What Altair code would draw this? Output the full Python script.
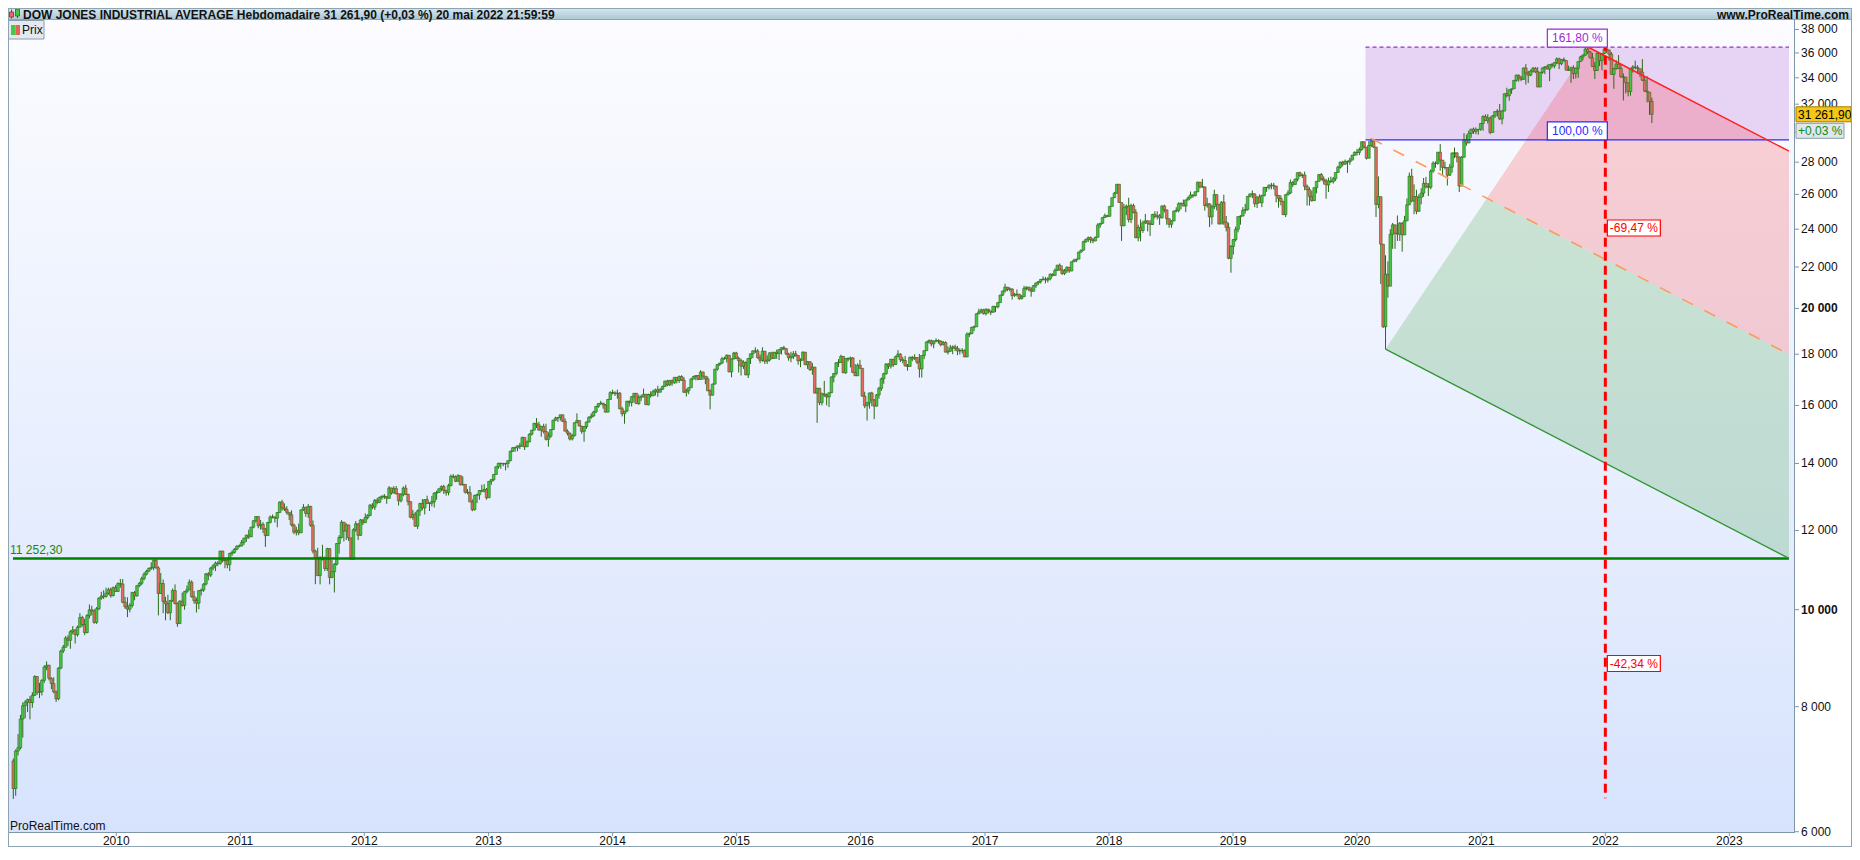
import math
import altair as alt
import pandas as pd

# ---------------- weekly candles (DJIA, week of 2009-03-02 .. week of 2022-05-16) ----------------
FIRST_OPEN = 7062.0

close_2009 = [6627, 7224, 7278, 7776, 8018, 8083, 8131, 8076, 8212, 8575, 8268, 8278, 8500, 8764, 8799, 8540, 8438, 8280, 8146, 8743, 9093, 9172, 9370, 9321, 9506, 9544, 9441, 9605, 9820, 9665, 9488, 9865, 9996, 9972, 9713, 10023, 10270, 10319, 10310, 10388, 10471, 10329, 10520, 10428]
close_2010 = [10618, 10610, 10173, 10067, 10012, 10099, 10403, 10325, 10567, 10625, 10742, 10851, 10927, 10997, 11019, 11204, 11009, 10380, 10620, 10193, 10137, 9931, 10212, 10450, 10144, 9686, 10198, 10098, 10424, 10466, 10654, 10303, 10213, 10150, 10448, 10462, 10607, 10860, 10829, 11006, 11063, 11133, 11118, 11445, 11192, 11204, 11092, 11382, 11410, 11492, 11573, 11578]
close_2011 = [11675, 11787, 11872, 11824, 12092, 12273, 12391, 12130, 12170, 12044, 11859, 12221, 12377, 12380, 12342, 12506, 12811, 12638, 12596, 12512, 12441, 12151, 11952, 12004, 11934, 12582, 12657, 12479, 12681, 12143, 11445, 11269, 10818, 11285, 11240, 10992, 11509, 10771, 10913, 11103, 11645, 11809, 12231, 11983, 12153, 11796, 11231, 12019, 12184, 11866, 12294, 12218]
close_2012 = [12360, 12422, 12720, 12660, 12862, 12801, 12950, 12983, 12978, 12922, 13233, 13081, 13212, 13060, 12850, 13029, 13229, 13038, 12821, 12369, 12455, 12119, 12554, 12767, 12640, 12880, 12772, 12777, 12823, 13075, 13096, 13207, 13275, 13158, 13091, 13306, 13593, 13579, 13437, 13610, 13329, 13343, 13107, 13093, 12815, 12588, 13010, 13026, 13155, 13135, 13190, 12938]
close_2013 = [13435, 13488, 13650, 13896, 14010, 13993, 13982, 14001, 14090, 14397, 14515, 14512, 14579, 14565, 14865, 14547, 14712, 14974, 15118, 15354, 15303, 15116, 15248, 15070, 14800, 14910, 15135, 15464, 15543, 15559, 15658, 15425, 15081, 15010, 14810, 14922, 15376, 15452, 15258, 15073, 15237, 15400, 15570, 15615, 15762, 15962, 16065, 16086, 16020, 15755, 16221, 16479]
close_2014 = [16470, 16437, 16459, 15879, 15699, 15794, 16154, 16104, 16322, 16453, 16066, 16303, 16323, 16413, 16027, 16409, 16361, 16513, 16584, 16492, 16606, 16717, 16925, 16776, 16947, 16851, 17068, 16944, 17100, 16961, 16493, 16553, 16663, 17001, 17098, 17138, 16988, 17280, 17113, 17009, 16544, 16380, 16805, 17391, 17573, 17635, 17810, 17828, 17958, 17281, 17805, 18053, 17833]
close_2015 = [17737, 17512, 17672, 17165, 17825, 18019, 18140, 18133, 17857, 17749, 18128, 17713, 17763, 18058, 17826, 18080, 18025, 18191, 18273, 18232, 18011, 17849, 17899, 18016, 17947, 17730, 17760, 18086, 17569, 17690, 17373, 17477, 16460, 16643, 16102, 16433, 16385, 16315, 16472, 17084, 17216, 17647, 17664, 17910, 17245, 17824, 17798, 17848, 17265, 17128, 17552, 17425]
close_2016 = [16347, 15988, 16094, 16466, 16205, 15974, 16392, 16640, 17007, 17213, 17602, 17516, 17793, 17577, 17898, 18004, 17774, 17741, 17535, 17501, 17873, 17807, 17865, 17675, 17400, 17949, 18147, 18517, 18571, 18432, 18544, 18577, 18553, 18395, 18492, 18085, 18124, 18262, 18308, 18240, 18138, 18146, 18161, 17889, 18848, 18868, 19153, 19171, 19757, 19843, 19934, 19763]
close_2017 = [19964, 19886, 19827, 20094, 20071, 20269, 20624, 20822, 21006, 20903, 20915, 20597, 20663, 20656, 20453, 20548, 20941, 21007, 20897, 20805, 21080, 21206, 21272, 21384, 21395, 21350, 21414, 21638, 21580, 21830, 22092, 21858, 21675, 21814, 21988, 21798, 22268, 22350, 22405, 22774, 22871, 23329, 23434, 23539, 23422, 23358, 23558, 24232, 24329, 24652, 24754, 24719]
close_2018 = [25296, 25803, 26072, 26617, 25521, 24191, 25219, 25310, 24538, 25336, 24947, 23533, 24103, 23933, 24360, 24463, 24311, 24263, 24831, 24715, 24753, 24635, 25317, 25090, 24581, 24271, 24456, 25019, 25058, 25451, 25463, 25313, 25669, 25790, 25965, 25917, 26155, 26744, 26458, 26447, 25340, 25444, 24688, 25271, 25989, 25413, 24286, 25538, 24389, 24101, 22445, 23062]
close_2019 = [23433, 23996, 24706, 24737, 25064, 25106, 25883, 26031, 26026, 25450, 25849, 25502, 25929, 26425, 26412, 26559, 26543, 26505, 25942, 25764, 25586, 24815, 25984, 26090, 26719, 26600, 26922, 27332, 27154, 27192, 26485, 26287, 25886, 25629, 26403, 26797, 27220, 26935, 26820, 26573, 26817, 26770, 26958, 27347, 27681, 28005, 27876, 28051, 28015, 28135, 28455, 28645]
close_2020 = [28635, 28824, 29348, 28990, 28256, 29103, 29398, 28992, 25409, 25865, 23186, 19174, 21637, 21053, 23720, 24242, 23775, 23724, 24331, 23685, 24465, 25383, 27111, 25606, 25871, 25016, 25827, 26075, 26672, 26470, 26428, 27433, 27931, 27930, 28654, 28133, 27666, 27657, 27174, 27683, 28587, 28606, 28336, 26502, 28323, 29480, 29263, 29910, 30218, 30046, 30179, 30200, 30606]
close_2021 = [31098, 30814, 30997, 29983, 31148, 31458, 31494, 30932, 31496, 32779, 32628, 33073, 33153, 33801, 34200, 34043, 33875, 34778, 34382, 34208, 34529, 34756, 34480, 33290, 34433, 34786, 34870, 34687, 35062, 34935, 35209, 35515, 35120, 35456, 35369, 34608, 34585, 34798, 34326, 34746, 35295, 35677, 35820, 36328, 36100, 35602, 34899, 34580, 35971, 35365, 35951, 36338]
close_2022 = [36231, 35912, 34265, 34725, 35089, 34738, 34079, 34059, 33615, 32944, 34755, 34861, 34818, 34721, 34451, 33811, 32977, 32899, 32197, 31261.9]

high_2009 = [7100, 7250, 7510, 7850, 8080, 8120, 8150, 8200, 8270, 8600, 8580, 8450, 8520, 8800, 8880, 8810, 8560, 8560, 8300, 8760, 9120, 9220, 9410, 9430, 9540, 9630, 9560, 9640, 9920, 9860, 9790, 9900, 10120, 10090, 10010, 10060, 10290, 10420, 10460, 10520, 10520, 10520, 10550, 10580]
high_2010 = [10650, 10730, 10730, 10300, 10290, 10150, 10420, 10440, 10580, 10660, 10790, 10900, 10960, 11020, 11150, 11220, 11258, 11050, 10880, 10720, 10300, 10350, 10230, 10500, 10600, 10170, 10220, 10400, 10440, 10570, 10720, 10700, 10440, 10280, 10460, 10500, 10630, 10880, 10900, 11030, 11100, 11170, 11180, 11450, 11450, 11240, 11250, 11400, 11460, 11520, 11600, 11620]
high_2011 = [11740, 11800, 11880, 12020, 12100, 12280, 12400, 12390, 12290, 12230, 12070, 12240, 12420, 12450, 12390, 12520, 12830, 12876, 12770, 12690, 12510, 12570, 12190, 12100, 12190, 12600, 12750, 12670, 12750, 12700, 12280, 11480, 11530, 11300, 11610, 11300, 11530, 11520, 11210, 11130, 11650, 11870, 12284, 12200, 12200, 12160, 11790, 12060, 12260, 12200, 12320, 12310]
high_2012 = [12480, 12460, 12750, 12780, 12900, 12930, 12970, 13010, 13050, 12990, 13290, 13240, 13290, 13290, 13060, 13080, 13280, 13330, 13060, 12830, 12580, 12520, 12590, 12790, 12900, 12900, 13000, 12800, 12990, 13100, 13150, 13220, 13310, 13330, 13170, 13360, 13650, 13660, 13620, 13660, 13620, 13590, 13330, 13200, 13290, 12890, 13030, 13060, 13170, 13330, 13350, 13230]
high_2013 = [13440, 13500, 13660, 13900, 14020, 14010, 14020, 14020, 14090, 14420, 14540, 14550, 14590, 14680, 14890, 14860, 14760, 15010, 15120, 15370, 15540, 15410, 15260, 15340, 15340, 15040, 15140, 15480, 15590, 15580, 15660, 15660, 15530, 15140, 15030, 14980, 15380, 15710, 15450, 15260, 15260, 15420, 15600, 15710, 15800, 15970, 16080, 16170, 16090, 16050, 16230, 16530]
high_2014 = [16590, 16530, 16590, 16500, 15950, 15800, 16170, 16180, 16350, 16460, 16450, 16400, 16400, 16630, 16430, 16440, 16530, 16590, 16630, 16740, 16640, 16740, 16930, 16970, 16960, 16980, 17070, 17080, 17140, 17150, 17080, 16630, 16680, 17040, 17130, 17150, 17160, 17350, 17290, 17120, 17100, 16600, 16820, 17400, 17600, 17650, 17890, 17900, 17990, 17950, 17830, 18100, 18100]
high_2015 = [17900, 17820, 17750, 17700, 17840, 18020, 18160, 18290, 18210, 17990, 18290, 18130, 17950, 18080, 18110, 18100, 18190, 18200, 18290, 18350, 18240, 18060, 18100, 18130, 18140, 17950, 17830, 18120, 18070, 17720, 17720, 17640, 17480, 16660, 16660, 16480, 16930, 16440, 16480, 17100, 17240, 17680, 17800, 17980, 17910, 17830, 17870, 17900, 17880, 17600, 17620, 17770]
high_2016 = [17410, 16510, 16130, 16480, 16510, 16230, 16430, 16700, 17060, 17250, 17630, 17630, 17800, 17800, 17940, 18170, 18040, 17890, 17930, 17600, 17900, 17930, 18000, 17870, 18010, 17950, 18160, 18540, 18620, 18620, 18580, 18670, 18630, 18580, 18560, 18540, 18330, 18390, 18370, 18400, 18340, 18240, 18250, 18200, 18930, 18930, 19170, 19230, 19770, 19990, 19990, 19980]
high_2017 = [19999, 19980, 19890, 20125, 20090, 20300, 20640, 20830, 21170, 21010, 21000, 20950, 20730, 20890, 20690, 20630, 21070, 21040, 21020, 21000, 21110, 21230, 21300, 21400, 21530, 21500, 21490, 21680, 21680, 21930, 22110, 22180, 22080, 21900, 22030, 21990, 22280, 22420, 22420, 22780, 22900, 23370, 23490, 23600, 23600, 23510, 23600, 24330, 24350, 24670, 24880, 24800]
high_2018 = [25300, 25810, 26150, 26620, 26600, 25520, 25430, 25400, 25800, 25450, 25450, 25130, 24250, 24540, 24480, 24860, 24500, 24500, 24860, 25010, 25010, 24850, 25350, 25400, 25100, 24600, 24500, 25050, 25240, 25530, 25530, 25690, 25700, 25890, 26170, 26000, 26180, 26770, 26760, 26950, 26490, 25800, 25470, 25380, 26280, 26000, 25410, 25600, 25980, 24740, 24360, 23140]
high_2019 = [23470, 24150, 24710, 24780, 25250, 25440, 25890, 26050, 26240, 26070, 25880, 26000, 25990, 26430, 26450, 26600, 26700, 26700, 26250, 25950, 25950, 25530, 26000, 26250, 26900, 26810, 26970, 27350, 27400, 27270, 27400, 26600, 26430, 26230, 26420, 26800, 27230, 27310, 27100, 26950, 27030, 27090, 27070, 27350, 27770, 28030, 28090, 28170, 28100, 28290, 28470, 28700]
high_2020 = [28870, 28960, 29370, 29370, 28990, 29410, 29568, 29460, 28400, 27100, 25720, 23190, 22600, 22290, 24000, 24350, 24250, 24770, 24400, 24390, 24750, 25760, 27340, 27580, 26610, 26280, 26000, 26370, 27000, 27070, 26690, 27540, 28060, 28050, 28660, 29200, 28100, 28030, 27650, 27880, 28650, 28960, 28640, 28360, 28400, 29933, 29830, 30116, 30220, 30320, 30330, 30200, 30640]
high_2021 = [31190, 31260, 31270, 31100, 31200, 31470, 31630, 32010, 31590, 32790, 33230, 33100, 33170, 33830, 34260, 34260, 34120, 34820, 35090, 34550, 34650, 34850, 34850, 34850, 34470, 34800, 34930, 35050, 35080, 35170, 35220, 35630, 35610, 35510, 35630, 35390, 34980, 34880, 34990, 34800, 35300, 35760, 35890, 36430, 36565, 36180, 36010, 35260, 36030, 36000, 35990, 36580]
high_2022 = [36952, 36290, 36070, 34790, 35400, 35820, 35070, 34350, 34000, 33590, 34760, 35000, 35370, 35000, 34730, 35490, 34110, 34120, 32870, 32470]

low_2009 = [6470, 6517, 7150, 7250, 7450, 7790, 7900, 7770, 7980, 8200, 8220, 8160, 8210, 8450, 8700, 8500, 8330, 8250, 8087, 8120, 8720, 9050, 9170, 9200, 9140, 9450, 9250, 9400, 9600, 9620, 9430, 9470, 9800, 9870, 9680, 9680, 9990, 10230, 10250, 10280, 10350, 10280, 10310, 10420]
low_2010 = [10420, 10520, 10150, 10020, 9830, 9940, 10050, 10220, 10300, 10530, 10580, 10700, 10820, 10900, 10960, 10950, 10990, 9870, 10370, 9920, 9760, 9900, 9760, 10180, 10120, 9614, 9680, 10070, 10000, 10380, 10460, 10280, 10140, 9936, 10010, 10330, 10420, 10570, 10700, 10780, 10950, 10930, 11050, 11090, 11150, 11000, 11000, 10930, 11320, 11380, 11470, 11540]
low_2011 = [11570, 11610, 11690, 11770, 11820, 12060, 12220, 12060, 12020, 11930, 11555, 11850, 12200, 12340, 12220, 12090, 12490, 12560, 12550, 12450, 12290, 12110, 11900, 11860, 11870, 11930, 12550, 12380, 12350, 12100, 11380, 10604, 10800, 10600, 11200, 10930, 10930, 10600, 10750, 10404, 11070, 11380, 11780, 11700, 11740, 11710, 11231, 11220, 11960, 11740, 11850, 12150]
low_2012 = [12220, 12310, 12400, 12600, 12580, 12740, 12780, 12880, 12900, 12760, 12900, 13030, 13060, 13030, 12710, 12800, 12980, 13020, 12710, 12340, 12300, 12100, 12040, 12410, 12570, 12450, 12750, 12550, 12680, 12650, 12880, 13090, 13130, 13050, 13000, 13010, 13280, 13530, 13410, 13430, 13310, 13310, 13060, 13040, 12810, 12540, 12560, 12780, 12880, 13100, 13100, 12880]
low_2013 = [12930, 13330, 13440, 13640, 13830, 13830, 13910, 13780, 13860, 14070, 14380, 14380, 14400, 14470, 14550, 14440, 14540, 14700, 14930, 15100, 15190, 15100, 14890, 15000, 14760, 14550, 14850, 15120, 15440, 15400, 15450, 15400, 15070, 14930, 14760, 14760, 14900, 15360, 15250, 14990, 14720, 15160, 15380, 15520, 15590, 15720, 15910, 16020, 15880, 15740, 15750, 16220]
low_2014 = [16410, 16350, 16250, 15860, 15600, 15340, 15750, 15960, 15960, 16100, 16060, 16020, 16170, 16300, 16020, 16000, 16290, 16340, 16370, 16320, 16490, 16580, 16700, 16720, 16730, 16740, 16820, 16830, 16850, 16930, 16460, 16330, 16420, 16660, 16990, 16950, 16960, 16980, 16970, 16800, 16540, 15855, 16370, 16790, 17330, 17530, 17600, 17770, 17660, 17270, 17070, 17790, 17800]
low_2015 = [17260, 17140, 17400, 17150, 17040, 17600, 17840, 18050, 17820, 17630, 17690, 17600, 17600, 17700, 17800, 17820, 17810, 17760, 17990, 18170, 17960, 17730, 17670, 17800, 17900, 17570, 17470, 17740, 17560, 17400, 17320, 17170, 16450, 15370, 16010, 16000, 16320, 16000, 15940, 16460, 16870, 17150, 17480, 17650, 17240, 17210, 17700, 17460, 17230, 17120, 17130, 17420]
low_2016 = [16330, 15900, 15451, 15880, 15970, 15503, 15960, 16250, 16540, 16820, 17170, 17400, 17420, 17480, 17560, 17880, 17680, 17630, 17490, 17330, 17490, 17710, 17770, 17600, 17060, 17060, 17800, 18140, 18450, 18330, 18250, 18500, 18440, 18330, 18380, 18080, 17990, 18100, 18000, 18130, 17960, 17990, 18030, 17880, 17880, 18730, 18860, 18980, 19170, 19730, 19780, 19720]
low_2017 = [19680, 19770, 19700, 19800, 19830, 20000, 20260, 20580, 20740, 20810, 20800, 20410, 20540, 20560, 20400, 20420, 20540, 20850, 20810, 20550, 20800, 20970, 21120, 21180, 21330, 21190, 21230, 21330, 21520, 21560, 21800, 21820, 21600, 21600, 21700, 21710, 21790, 22250, 22250, 22400, 22730, 22840, 23250, 23300, 23240, 23240, 23350, 23540, 24070, 24300, 24650, 24670]
low_2018 = [24740, 25280, 25790, 26050, 25500, 23360, 24160, 24790, 24380, 24340, 24890, 23510, 23340, 23340, 23800, 24300, 23880, 23630, 24230, 24610, 24550, 24240, 24600, 24940, 24250, 24080, 24080, 24450, 24950, 24950, 25120, 25300, 24960, 25650, 25760, 25800, 25890, 26140, 26360, 26400, 25050, 25220, 24120, 24260, 25130, 25060, 24270, 24290, 24240, 23880, 22400, 21713]
low_2019 = [22640, 23330, 23830, 24250, 24720, 24880, 25050, 25820, 25780, 25250, 25200, 25490, 25250, 25880, 26150, 26290, 26300, 26300, 25530, 25220, 25350, 24800, 24680, 25940, 26020, 26450, 26710, 26790, 27060, 27000, 26250, 25340, 25340, 25570, 25620, 26060, 26780, 26860, 26600, 25740, 26140, 26700, 26660, 26820, 27320, 27590, 27730, 27820, 27320, 27830, 28130, 28420]
low_2020 = [28420, 28460, 28740, 28900, 28170, 28320, 29000, 28930, 24681, 25180, 21154, 19122, 18213, 20500, 21050, 22940, 22940, 23360, 23360, 22790, 23680, 24450, 25380, 25530, 24840, 24840, 24970, 25410, 25860, 26360, 25900, 26310, 27330, 27640, 27840, 27460, 27190, 27540, 26540, 27120, 27330, 28260, 27990, 26140, 26500, 28300, 29080, 29260, 29620, 29880, 29860, 29830, 30100]
low_2021 = [30100, 30790, 30600, 29860, 29980, 31000, 31100, 30850, 30550, 31480, 32500, 32250, 32770, 33150, 33700, 33710, 33730, 33840, 33470, 33600, 34130, 34390, 34370, 33270, 33270, 34320, 34290, 34680, 33740, 34800, 34750, 35090, 34690, 35000, 35270, 34580, 34560, 33610, 33900, 33940, 34000, 35260, 35380, 35760, 35900, 35560, 34860, 33910, 34560, 34930, 34600, 35900]
low_2022 = [35990, 35370, 34260, 33150, 34640, 34720, 33990, 32272, 32800, 32580, 32630, 34410, 34660, 34300, 34080, 33750, 32910, 32130, 31210, 30636]

closes = (close_2009 + close_2010 + close_2011 + close_2012 + close_2013 + close_2014 + close_2015
          + close_2016 + close_2017 + close_2018 + close_2019 + close_2020 + close_2021 + close_2022)
highs = (high_2009 + high_2010 + high_2011 + high_2012 + high_2013 + high_2014 + high_2015
         + high_2016 + high_2017 + high_2018 + high_2019 + high_2020 + high_2021 + high_2022)
lows = (low_2009 + low_2010 + low_2011 + low_2012 + low_2013 + low_2014 + low_2015
        + low_2016 + low_2017 + low_2018 + low_2019 + low_2020 + low_2021 + low_2022)
assert len(closes) == len(highs) == len(lows)

FIRST_WEEK = "2009-03-04"

# ---------------- drawing-tool anchors (date, price) ----------------
START_DATE = "2009-03-03 02:00"
END_DATE = "2023-06-25 14:00"
BOX_LEFT_DATE = "2020-01-26"
H_DATE, H_PRICE = "2020-02-12", 29568.57        # Feb 2020 high
A_DATE, A_PRICE = "2020-03-25", 18213.65        # Mar 2020 low
P_DATE, P_PRICE = "2021-11-12", 36480.0         # Nov 2021 high on 161.8 % level
RED_END, ORANGE_END, GREEN_END = 28720.0, 18000.0, 11252.30
LEVEL_161, LEVEL_100 = 36480.0, 29470.0
VLINE_DATE, VLINE_TOP, VLINE_BOTTOM = "2022-01-01", 36950.0, 6480.0
SUPPORT = 11252.30
LAST_CLOSE = 31261.90
PCT69_PRICE, PCT42_PRICE = 24066.0, 8836.0

Y_DOMAIN = [5996, 38837]
Y_TICKS = [6000, 8000, 10000, 12000, 14000, 16000, 18000, 20000, 22000, 24000, 26000, 28000,
           30000, 32000, 34000, 36000, 38000]
Y_HIDDEN = [30000]          # label covered by the price boxes
Y_BOLD = [10000, 20000]
X_TICK_YEARS = list(range(2010, 2024))

HEADER_TEXT = "DOW JONES INDUSTRIAL AVERAGE Hebdomadaire 31 261,90 (+0,03 %) 20 mai 2022 21:59:59"

# ---------------- layout / style ----------------
W, H = 1786, 812
TOP, RIGHT, BOTTOM = 12, 58, 15
FONT = "Liberation Sans"
DARK = "#2b6a17"
UP = "#43c743"
DOWN = "#e8695f"
AXIS = "#7f96a6"
FRAME = "#8ea4b2"
TXT = "#111111"


def tlist(xs):
    return pd.DatetimeIndex([pd.Timestamp(x) for x in xs])


# ---------------- frames ----------------
dates = pd.date_range(FIRST_WEEK, periods=len(closes), freq="7D")
opens = [FIRST_OPEN] + closes[:-1]
df = pd.DataFrame({"d": dates, "o": opens, "c": closes, "h": highs, "l": lows})
df["h"] = df[["h", "o", "c"]].max(axis=1)
df["l"] = df[["l", "o", "c"]].min(axis=1)


def days(d):
    return pd.Timestamp(d).value / 86400e9


def on_line(d1, p1, d2, p2, d):
    t = (days(d) - days(d1)) / (days(d2) - days(d1))
    return math.exp(math.log(p1) + t * (math.log(p2) - math.log(p1)))


# intersection of A->P edge with the H->end orange line (straight in date / log-price space)
tA, tP, tH, tR = days(A_DATE), days(P_DATE), days(H_DATE), days(END_DATE)
b1 = (math.log(P_PRICE) - math.log(A_PRICE)) / (tP - tA)
b2 = (math.log(ORANGE_END) - math.log(H_PRICE)) / (tR - tH)
tI = (math.log(H_PRICE) - math.log(A_PRICE) + b1 * tA - b2 * tH) / (b1 - b2)
I_DATE = pd.Timestamp(int(round(tI * 86400e9)))
I_PRICE = math.exp(math.log(A_PRICE) + b1 * (tI - tA))

pink_df = pd.DataFrame({
    "d": tlist([I_DATE, P_DATE, END_DATE]),
    "top": [I_PRICE, P_PRICE, RED_END],
    "bot": [I_PRICE, on_line(H_DATE, H_PRICE, END_DATE, ORANGE_END, P_DATE), ORANGE_END],
})
green_df = pd.DataFrame({
    "d": tlist([A_DATE, I_DATE, END_DATE]),
    "top": [A_PRICE, I_PRICE, ORANGE_END],
    "bot": [A_PRICE, on_line(A_DATE, A_PRICE, END_DATE, GREEN_END, I_DATE), GREEN_END],
})
box_df = pd.DataFrame({"d": tlist([BOX_LEFT_DATE]), "d2": tlist([END_DATE]),
                       "p": [LEVEL_100], "p2": [LEVEL_161]})


def seg(d1, p1, d2, p2):
    return pd.DataFrame({"d": tlist([d1]), "d2": tlist([d2]), "p": [p1], "p2": [p2]})


one = pd.DataFrame({"k": [0]})

X_SCALE = alt.Scale(domain=[alt.DateTime(year=2009, month=3, date=3, hours=2),
                            alt.DateTime(year=2023, month=6, date=25, hours=14)], nice=False)
Y_SCALE = alt.Scale(type="log", domain=Y_DOMAIN, nice=False)


def X(f="d"):
    return alt.X(f"{f}:T", scale=X_SCALE, axis=None, title=None)


def Y(f="p"):
    return alt.Y(f"{f}:Q", scale=Y_SCALE, axis=None, title=None)


def fmt_thousands(v):
    return f"{v:,}".replace(",", " ")


xt = pd.DataFrame({"d": tlist([f"{y}-01-01" for y in X_TICK_YEARS]), "t": [str(y) for y in X_TICK_YEARS]})
yt = pd.DataFrame({"p": Y_TICKS})
yl = pd.DataFrame({"p": [v for v in Y_TICKS if v not in Y_HIDDEN],
                   "t": [fmt_thousands(v) for v in Y_TICKS if v not in Y_HIDDEN],
                   "b": [v in Y_BOLD for v in Y_TICKS if v not in Y_HIDDEN]})

layers = []

# plot background gradient
layers.append(alt.Chart(one).mark_rect(fill={
    "gradient": "linear", "x1": 0, "y1": 0, "x2": 0, "y2": 1,
    "stops": [{"offset": 0, "color": "#fcfcff"}, {"offset": 1, "color": "#d7e3fd"}]}).encode(
    x=alt.value(0), x2=alt.value(W), y=alt.value(0), y2=alt.value(H)))

# fib box and fan fills
layers.append(alt.Chart(box_df).mark_rect(fill="#e7d3f4").encode(x=X("d"), x2="d2:T", y=Y("p"), y2="p2:Q"))
layers.append(alt.Chart(pink_df).mark_area(color="#ff0000", opacity=0.17).encode(x=X("d"), y=Y("top"), y2="bot:Q"))
layers.append(alt.Chart(green_df).mark_area(color="#008000", opacity=0.17).encode(x=X("d"), y=Y("top"), y2="bot:Q"))

# candles
layers.append(alt.Chart(df).mark_rule(color=DARK, strokeWidth=1).encode(
    x=X("d"), y=Y("l"), y2="h:Q"))
layers.append(alt.Chart(df).mark_bar(size=2.6, stroke=DARK, strokeWidth=0.6).encode(
    x=X("d"), y=Y("o"), y2="c:Q",
    fill=alt.condition("datum.c >= datum.o", alt.value(UP), alt.value(DOWN))))

# support line
layers.append(alt.Chart(seg(START_DATE, SUPPORT, END_DATE, SUPPORT)).mark_rule(
    color="#008000", strokeWidth=2.5).encode(x=X("d"), x2="d2:T", y=Y("p"), y2="p2:Q"))
layers.append(alt.Chart(pd.DataFrame({"p": [SUPPORT], "t": ["11 252,30"]})).mark_text(
    align="left", baseline="alphabetic", dy=-4, fontSize=12, color="#118a11", font=FONT).encode(
    x=alt.value(2), y=Y("p"), text="t:N"))

# fan / fib lines
layers.append(alt.Chart(seg(BOX_LEFT_DATE, LEVEL_161, END_DATE, LEVEL_161)).mark_rule(
    color="#9a2bd6", strokeWidth=1.2, strokeDash=[4, 3]).encode(x=X("d"), x2="d2:T", y=Y("p"), y2="p2:Q"))
layers.append(alt.Chart(seg(BOX_LEFT_DATE, LEVEL_100, END_DATE, LEVEL_100)).mark_rule(
    color="#2b2bff", strokeWidth=1.2).encode(x=X("d"), x2="d2:T", y=Y("p"), y2="p2:Q"))
layers.append(alt.Chart(seg(H_DATE, H_PRICE, END_DATE, ORANGE_END)).mark_rule(
    color="#ff9a5a", strokeWidth=1.6, strokeDash=[12, 13]).encode(x=X("d"), x2="d2:T", y=Y("p"), y2="p2:Q"))
layers.append(alt.Chart(seg(P_DATE, P_PRICE, END_DATE, RED_END)).mark_rule(
    color="#ff2020", strokeWidth=1.5).encode(x=X("d"), x2="d2:T", y=Y("p"), y2="p2:Q"))
layers.append(alt.Chart(seg(A_DATE, A_PRICE, END_DATE, GREEN_END)).mark_rule(
    color="#2e962e", strokeWidth=1.3).encode(x=X("d"), x2="d2:T", y=Y("p"), y2="p2:Q"))
layers.append(alt.Chart(seg(VLINE_DATE, VLINE_TOP, VLINE_DATE, VLINE_BOTTOM)).mark_rule(
    color="#ff0000", strokeWidth=3, strokeDash=[9, 5]).encode(x=X("d"), x2="d2:T", y=Y("p"), y2="p2:Q"))

# labels on the drawing
fib_labels = [
    (LEVEL_161, "161,80 %", "#9a2bd6"),
    (LEVEL_100, "100,00 %", "#2b2bff"),
]
for price, txt, col in fib_labels:
    d = pd.DataFrame({"d": tlist([VLINE_DATE]), "p": [price], "t": [txt]})
    layers.append(alt.Chart(d).mark_rect(fill="white", stroke=col, strokeWidth=1.2,
                                         xOffset=-58, x2Offset=2, yOffset=-18, y2Offset=0).encode(
        x=X("d"), x2="d:T", y=Y("p"), y2="p:Q"))
    layers.append(alt.Chart(d).mark_text(align="center", baseline="middle", dx=-28, dy=-9,
                                         fontSize=12, color=col, font=FONT).encode(
        x=X("d"), y=Y("p"), text="t:N"))

pct_labels = [(PCT69_PRICE, "-69,47 %"), (PCT42_PRICE, "-42,34 %")]
for price, txt in pct_labels:
    d = pd.DataFrame({"d": tlist([VLINE_DATE]), "p": [price], "t": [txt]})
    layers.append(alt.Chart(d).mark_rect(fill="white", stroke="#ff0000", strokeWidth=1.2,
                                         xOffset=2, x2Offset=55, yOffset=-8, y2Offset=8).encode(
        x=X("d"), x2="d:T", y=Y("p"), y2="p:Q"))
    layers.append(alt.Chart(d).mark_text(align="center", baseline="middle", dx=28.5, dy=0.5,
                                         fontSize=12, color="#ff0000", font=FONT).encode(
        x=X("d"), y=Y("p"), text="t:N"))

# ---------------- axes (drawn as marks through the scales) ----------------
layers.append(alt.Chart(one).mark_rule(color=AXIS, strokeWidth=1).encode(
    x=alt.value(W + 0.5), y=alt.value(0), y2=alt.value(H)))
layers.append(alt.Chart(one).mark_rule(color=AXIS, strokeWidth=1).encode(
    x=alt.value(0), x2=alt.value(W + 1), y=alt.value(H + 0.5)))
layers.append(alt.Chart(xt).mark_rule(color=AXIS, strokeWidth=1).encode(
    x=X("d"), y=alt.value(H), y2=alt.value(H + 4)))
layers.append(alt.Chart(xt).mark_text(align="center", baseline="alphabetic", fontSize=12, color=TXT,
                                      font=FONT).encode(x=X("d"), y=alt.value(H + 12.5), text="t:N"))
layers.append(alt.Chart(yt).mark_rule(color=AXIS, strokeWidth=1).encode(
    x=alt.value(W), x2=alt.value(W + 5), y=Y("p")))
layers.append(alt.Chart(yl).transform_filter("!datum.b").mark_text(
    align="left", baseline="middle", fontSize=12, color=TXT, font=FONT).encode(
    x=alt.value(W + 7), y=Y("p"), text="t:N"))
layers.append(alt.Chart(yl).transform_filter("datum.b").mark_text(
    align="left", baseline="middle", fontSize=12, fontWeight="bold", color=TXT, font=FONT).encode(
    x=alt.value(W + 7), y=Y("p"), text="t:N"))

# last price boxes on the price axis
lp = pd.DataFrame({"p": [LAST_CLOSE], "t": ["31 261,90"], "q": ["+0,03 %"]})
layers.append(alt.Chart(lp).mark_rect(fill="#f5c518", stroke="#a08000", strokeWidth=1,
                                      yOffset=-7.5, y2Offset=7.5).encode(
    x=alt.value(W + 2), x2=alt.value(W + 57), y=Y("p"), y2="p:Q"))
layers.append(alt.Chart(lp).mark_text(align="left", baseline="middle", fontSize=12, color="#000000",
                                      font=FONT, dy=0.5).encode(x=alt.value(W + 4), y=Y("p"), text="t:N"))
layers.append(alt.Chart(lp).mark_rect(fill="#dfe7ee", stroke="#8b9cab", strokeWidth=1,
                                      yOffset=9, y2Offset=24).encode(
    x=alt.value(W + 2), x2=alt.value(W + 50), y=Y("p"), y2="p:Q"))
layers.append(alt.Chart(lp).mark_text(align="left", baseline="middle", fontSize=12, color="#118a11",
                                      font=FONT, dy=17).encode(x=alt.value(W + 4), y=Y("p"), text="q:N"))

# header bar
layers.append(alt.Chart(one).mark_rect(fill={
    "gradient": "linear", "x1": 0, "y1": 0, "x2": 0, "y2": 1,
    "stops": [{"offset": 0, "color": "#d8e7ef"}, {"offset": 1, "color": "#a9c5d3"}]}).encode(
    x=alt.value(0), x2=alt.value(W + RIGHT), y=alt.value(-TOP), y2=alt.value(0)))
layers.append(alt.Chart(one).mark_rule(color=FRAME, strokeWidth=1).encode(
    x=alt.value(0), x2=alt.value(W + RIGHT), y=alt.value(-0.5)))
layers.append(alt.Chart(pd.DataFrame({"t": [HEADER_TEXT]})).mark_text(
    align="left", baseline="middle", fontSize=12, fontWeight="bold", color=TXT, font=FONT).encode(
    x=alt.value(15), y=alt.value(-5.5), text="t:N"))
layers.append(alt.Chart(pd.DataFrame({"t": ["www.ProRealTime.com"]})).mark_text(
    align="right", baseline="middle", fontSize=12, fontWeight="bold", color=TXT, font=FONT).encode(
    x=alt.value(W + RIGHT - 3), y=alt.value(-5.5), text="t:N"))
# header candle icon
layers.append(alt.Chart(one).mark_rule(color=DARK, strokeWidth=1).encode(
    x=alt.value(3.5), y=alt.value(-10.5), y2=alt.value(-1.5)))
layers.append(alt.Chart(one).mark_rect(fill=DOWN, stroke="#8a3030", strokeWidth=0.8).encode(
    x=alt.value(1.5), x2=alt.value(5.5), y=alt.value(-8), y2=alt.value(-3)))
layers.append(alt.Chart(one).mark_rule(color=DARK, strokeWidth=1).encode(
    x=alt.value(9.5), y=alt.value(-12), y2=alt.value(-2)))
layers.append(alt.Chart(one).mark_rect(fill=UP, stroke=DARK, strokeWidth=0.8).encode(
    x=alt.value(7.5), x2=alt.value(11.5), y=alt.value(-11), y2=alt.value(-4)))

# "Prix" legend box
layers.append(alt.Chart(one).mark_rect(fill="#e3e9ef", stroke="#8b9cab", strokeWidth=1).encode(
    x=alt.value(0.5), x2=alt.value(36), y=alt.value(0.5), y2=alt.value(19)))
layers.append(alt.Chart(one).mark_rect(fill="#45c845").encode(
    x=alt.value(3), x2=alt.value(7.5), y=alt.value(5), y2=alt.value(15)))
layers.append(alt.Chart(one).mark_rect(fill="#e8605a").encode(
    x=alt.value(7.5), x2=alt.value(12), y=alt.value(5), y2=alt.value(15)))
layers.append(alt.Chart(pd.DataFrame({"t": ["Prix"]})).mark_text(
    align="left", baseline="middle", fontSize=12, color=TXT, font=FONT).encode(
    x=alt.value(14), y=alt.value(10), text="t:N"))

# watermark
layers.append(alt.Chart(pd.DataFrame({"t": ["ProRealTime.com"]})).mark_text(
    align="left", baseline="alphabetic", fontSize=12, color=TXT, font=FONT).encode(
    x=alt.value(2), y=alt.value(H - 2), text="t:N"))

# outer frame
layers.append(alt.Chart(one).mark_rule(color=FRAME, strokeWidth=1).encode(
    x=alt.value(0.5), y=alt.value(-TOP), y2=alt.value(H + BOTTOM)))
layers.append(alt.Chart(one).mark_rule(color=FRAME, strokeWidth=1).encode(
    x=alt.value(W + RIGHT - 0.5), y=alt.value(-TOP), y2=alt.value(H + BOTTOM)))
layers.append(alt.Chart(one).mark_rule(color=FRAME, strokeWidth=1).encode(
    x=alt.value(0), x2=alt.value(W + RIGHT), y=alt.value(-TOP + 0.5)))
layers.append(alt.Chart(one).mark_rule(color=FRAME, strokeWidth=1).encode(
    x=alt.value(0), x2=alt.value(W + RIGHT), y=alt.value(H + BOTTOM - 0.5)))

chart = alt.layer(*layers).properties(
    width=W, height=H,
    padding={"left": 0, "top": TOP, "right": RIGHT, "bottom": BOTTOM},
    autosize=alt.AutoSizeParams(type="none"),
    background="white",
).configure_view(stroke=None).configure(font=FONT)

chart.save("out.html", embed_options={"renderer": "svg", "actions": False})
